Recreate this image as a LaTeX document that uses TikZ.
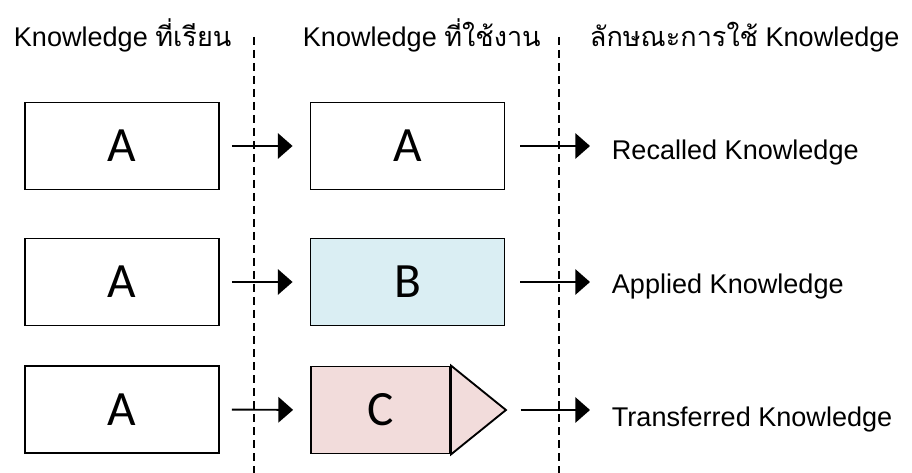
\documentclass[tikz,border=0pt]{standalone}
\usepackage{fontspec}
\setmainfont{Liberation Sans}
\newfontfamily\thaifont[Script=Thai]{Loma}
\newfontfamily\letterfont{Carlito}
\usetikzlibrary{arrows.meta}
\definecolor{useblue}{HTML}{DAEEF3}
\definecolor{usepink}{HTML}{F2DCDB}

\begin{document}
\begin{tikzpicture}[x=0.75pt,y=-0.75pt,line width=1.4pt,
  every node/.append style={inner sep=0pt}]
  \tikzstyle{box} = [draw,rectangle,minimum width=145.5pt,minimum height=65.25pt,
    font=\letterfont\fontsize{37}{40}\selectfont]
  \tikzstyle{word} = [anchor=base west,font=\fontsize{20.3}{24}\selectfont]
  \tikzstyle{to use} = [-{Triangle[length=11pt,width=19pt]},shorten <=9pt,shorten >=12.75pt]
  \tikzstyle{to kind} = [-{Triangle[length=11pt,width=19pt]},shorten <=11pt,shorten >=15.75pt]
  \tikzstyle{split} = [line width=1pt,dash pattern=on 6pt off 3.75pt]
  \useasboundingbox (0,0) rectangle (912,473);
  % column heads
  \node (head_1) [word] at (13,47) {Knowledge {\thaifont ที่เรียน}};
  \node (head_2) [word] at (302,47) {Knowledge {\thaifont ที่ใช้งาน}};
  \node (head_3) [word] at (589,47) {{\thaifont ลักษณะการใช้} Knowledge};
  % dashed separators
  \coordinate (cut_1t) at (254,37);
  \coordinate (cut_1b) at (254,473);
  \coordinate (cut_2t) at (559,37);
  \coordinate (cut_2b) at (559,473);
  \draw [split] (cut_1t) -- (cut_1b);
  \draw [split] (cut_2t) -- (cut_2b);
  % learned
  \node (learn_1) [box] at (122,146) {A};
  \node (learn_2) [box] at (122,282) {A};
  \node (learn_3) [box] at (122,409.5) {A};
  % used
  \node (use_1) [box] at (407.5,146) {A};
  \node (use_2) [box,fill=useblue] at (407.5,282) {B};
  \node (use_3) [box,fill=usepink,minimum width=104.25pt] at (380.5,410) {C};
  \coordinate (tip_3) at ([xshift=41.25pt]use_3.east);
  \draw [fill=usepink] (use_3.north east) -- (tip_3) -- (use_3.south east) -- cycle;
  % kinds
  \node (kind_1) [word] at (611,160) {Recalled Knowledge};
  \node (kind_2) [word] at (611,294) {Applied Knowledge};
  \node (kind_3) [word] at (611,426) {Transferred Knowledge};
  % arrows
  \draw [to use] (learn_1.east) -- (use_1.west);
  \draw [to use] (learn_2.east) -- (use_2.west);
  \draw [to use] (learn_3.east) -- (use_3.west);
  \draw [to kind] (use_1.east) -- (use_1.east -| kind_1.west);
  \draw [to kind] (use_2.east) -- (use_2.east -| kind_2.west);
  \draw [to kind] (tip_3) -- (tip_3 -| kind_3.west);
\end{tikzpicture}
\end{document}
